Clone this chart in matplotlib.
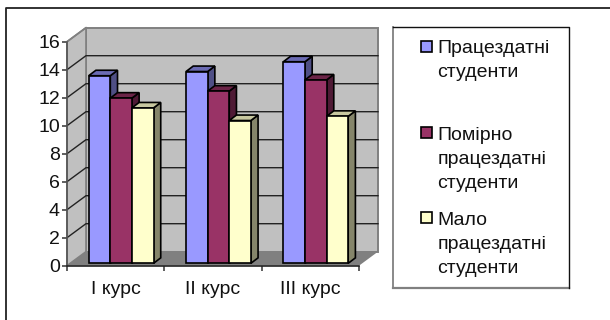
import matplotlib
matplotlib.use("Agg")
import matplotlib.pyplot as plt
from matplotlib.patches import Polygon, Rectangle

plt.rcParams["font.family"] = ["Liberation Sans", "DejaVu Sans"]

W, H = 610, 320

categories = ["I курс", "II курс", "III курс"]
series_names = ["Працездатні\nстуденти", "Помірно\nпрацездатні\nстуденти", "Мало\nпрацездатні\nстуденти"]
able = [13.4, 13.7, 14.4]
moderate = [11.8, 12.3, 13.1]
low = [11.1, 10.2, 10.5]
y_ticks = [0, 2, 4, 6, 8, 10, 12, 14, 16]

front_colors = ["#9999ff", "#993366", "#ffffcc"]
side_colors = ["#4f4f85", "#4f1a35", "#85856a"]
top_colors = ["#6b6bb3", "#6b2447", "#c8c8a0"]

# oblique depth of the box, in axis units
DEPTH_X = 0.195
DEPTH_Y = 1.0
BAR_W = 0.222
BAR_DX = 0.074
BAR_DY = 0.39
BAR_SHIFT_X = 0.056
BAR_SHIFT_Y = 0.17


def px(x0, y0, x1, y1):
    return [x0 / W, 1 - y1 / H, (x1 - x0) / W, (y1 - y0) / H]


def poly(ax, pts, fc, ec="none", lw=0, z=1):
    ax.add_patch(Polygon(pts, closed=True, facecolor=fc, edgecolor=ec, linewidth=lw, zorder=z, clip_on=False))


fig = plt.figure(figsize=(W / 100, H / 100), dpi=100)

# outer chart frame, open on the right and at the bottom
bg = fig.add_axes([0, 0, 1, 1])
bg.set_xlim(0, W)
bg.set_ylim(H, 0)
bg.axis("off")
bg.plot([5.5, 5.5, W], [H, 7.5, 7.5], color="#222222", lw=1.3)

ax = fig.add_axes(px(67, 41.7, 359, 265.7))
ax.set_xlim(0, 3)
ax.set_ylim(0, 16)
ax.patch.set_alpha(0)
for s in ["top", "right"]:
    ax.spines[s].set_visible(False)
ax.spines["left"].set_color("#555555")
ax.spines["left"].set_linewidth(1.2)
ax.spines["bottom"].set_color("#222222")
ax.spines["bottom"].set_linewidth(1.2)

dx, dy = DEPTH_X, DEPTH_Y

# back wall, side wall and floor
poly(ax, [(dx, dy), (3 + dx, dy), (3 + dx, 16 + dy), (dx, 16 + dy)], "#c0c0c0", "#808080", 1.4)
poly(ax, [(0, 0), (dx, dy), (dx, 16 + dy), (0, 16)], "#c0c0c0", "#808080", 1.2)
poly(ax, [(0, 0), (3, 0), (3 + dx, dy), (dx, dy)], "#808080")

for t in y_ticks[1:-1]:
    ax.plot([0, dx, 3 + dx], [t, t + dy, t + dy], color="#222222", lw=1.0, zorder=2, clip_on=False)
ax.plot([0, dx], [16, 16 + dy], color="#808080", lw=1.2, zorder=2, clip_on=False)

# bars, drawn back to front within each group
series = [able, moderate, low]
for i, values in enumerate(series):
    for j, v in enumerate(values):
        x0 = j + (1 - 3 * BAR_W) / 2 + BAR_SHIFT_X + i * BAR_W
        x1 = x0 + BAR_W
        y0 = BAR_SHIFT_Y
        y1 = v + BAR_SHIFT_Y
        z = 3 + i * 0.1
        poly(ax, [(x1, y0), (x1 + BAR_DX, y0 + BAR_DY), (x1 + BAR_DX, y1 + BAR_DY), (x1, y1)],
             side_colors[i], "black", 1.2, z)
        poly(ax, [(x0, y1), (x1, y1), (x1 + BAR_DX, y1 + BAR_DY), (x0 + BAR_DX, y1 + BAR_DY)],
             top_colors[i], "black", 1.2, z)
        ax.bar(x0, v, bottom=y0, width=BAR_W, align="edge", color=front_colors[i],
               edgecolor="black", linewidth=1.2, zorder=z + 0.01, clip_on=False)

ax.set_xticks([0, 1, 2, 3])
ax.set_xticklabels([])
ax.set_yticks(y_ticks)
ax.tick_params(axis="both", length=3.6, width=1.1, color="#333333")
ax.tick_params(axis="y", labelsize=14, pad=1.5, labelcolor="#111111")
for j, name in enumerate(categories):
    ax.annotate(name, (j + 0.5, 0), xytext=(0, -17), textcoords="offset points",
                ha="center", va="center", fontsize=14, color="#111111")

# legend box, dark on top and right, grey on the other two sides
bg.add_patch(Rectangle((392.5, 26.5), 176.5, 261, facecolor="white", edgecolor="none"))
bg.plot([392.7, 392.7], [26.5, 287.7], color="#808080", lw=1.3)
bg.plot([392.7, 569.3], [287.7, 287.7], color="#808080", lw=1.6)
bg.plot([392.7, 569.3, 569.3], [26.5, 26.5, 287.7], color="#111111", lw=1.0)

marker_y = [46, 132, 217]
text_y = [60.5, 159.5, 244.5]
for ym, yt, name, c in zip(marker_y, text_y, series_names, front_colors):
    bg.add_patch(Rectangle((420.5, ym - 5.5), 11, 11, facecolor=c, edgecolor="black", linewidth=1.2))
    bg.text(437.5, yt, name, fontsize=14, va="center", ha="left", linespacing=1.55, color="#111111")

fig.savefig("out.png", dpi=100)
